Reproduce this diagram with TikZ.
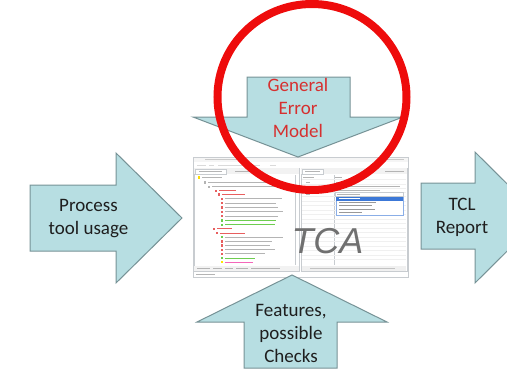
\documentclass[tikz,border=0pt]{standalone}
\usepackage{fontspec}
\setmainfont{Carlito}
\newfontfamily\tcafont{Liberation Sans}
\definecolor{arrowfill}{RGB}{183,222,226}
\definecolor{arrowline}{RGB}{118,146,150}
\definecolor{ringred}{RGB}{238,12,12}
\definecolor{gemred}{RGB}{214,48,48}
\definecolor{labelgray}{RGB}{30,30,30}
\definecolor{tcagray}{RGB}{112,112,112}
\definecolor{shotline}{RGB}{200,204,208}
\definecolor{treegreen}{RGB}{110,205,80}
\definecolor{treered}{RGB}{232,95,95}
\definecolor{treegray}{RGB}{180,180,180}
\definecolor{selblue}{RGB}{60,120,215}
\tikzset{
  bigarrow/.style={fill=arrowfill, draw=arrowline, line width=1pt, line join=miter},
  arrowlabel/.style={font=\fontsize{19}{23}\selectfont, text=labelgray, align=center, inner sep=0pt},
  redlabel/.style={arrowlabel, text=gemred},
  panel/.style={draw=shotline, line width=0.5pt, fill=white},
  tabrow/.style={fill=gray!10},
  txtbar/.style={line width=0.9pt, line cap=butt},
  ring/.style={draw=ringred, line width=8pt}
}
\begin{document}
\begin{tikzpicture}[x=1pt, y=-1pt]
\useasboundingbox (0,0) rectangle (507,373);
\clip (0,0) rectangle (507,373);

% ---------------- screenshot of the tool ----------------
\node[panel, minimum width=215pt, minimum height=120pt, inner sep=0pt] (shot) at (300.5,217) {};
\fill[gray!8] (193.5,157.5) rectangle (407.5,162);
\draw[txtbar, treegray!70] (205,159.8) -- (240,159.8);
\draw[txtbar, treegray!70] (380,159.8) -- (404,159.8);
\draw[txtbar, treegray!50] (197,165) -- (206,165) (209,165) -- (214,165) (218,165) -- (260,165) (270,165) -- (276,165);
% left panel
\node[panel, minimum width=105pt, minimum height=103pt, inner sep=0pt] (leftpanel) at (246.5,219.5) {};
\fill[tabrow] (194.3,168.3) rectangle (298.7,174);
\draw[panel] (195,169) rectangle (226,174);
\draw[txtbar, treegray] (199,171.5) -- (222,171.5) (235,171.5) -- (262,171.5);
\draw[shotline] (295.5,175) -- (295.5,265);
% tree lines
\foreach \yy/\xa/\xb/\ic/\tc in {
  177.3/198/222/yellow!80!orange/treegray,
  182.3/204/270/treegray/treegray,
  186.7/208/275/treegray/treegray,
  190.7/215/236/treered/treered,
  194.3/218/245/treered/treered,
  198.7/221/282/treered/treegray,
  203.0/221/276/treered/treegray,
  207.3/221/278/treered/treegray,
  211.7/221/283/treered/treegray,
  216.0/221/278/treered/treegray,
  220.3/221/276/treegreen/treegreen,
  224.7/221/275/treegreen/treegreen,
  228.7/213/232/treered/treered,
  233.0/216/245/treered/treered,
  237.0/221/283/treegreen/treegray,
  241.3/221/272/treered/treegray,
  245.3/221/270/treered/treegray,
  249.7/221/275/treered/treegray,
  253.7/221/265/treered/treegray,
  258.0/221/255/treegreen/treegreen,
  262.0/221/253/yellow!90!orange/magenta!60}{
  \fill[\ic] (\xa,\yy-1.2) rectangle (\xa+2.4,\yy+1.2);
  \draw[txtbar, \tc] (\xa+4,\yy) -- (\xb,\yy);
}
\fill[tabrow] (194.3,265.5) rectangle (298.7,270.7);
\draw[txtbar, treegray] (197,268) -- (210,268) (213,268) -- (222,268) (225,268) -- (233,268) (236,268) -- (248,268) (251,268) -- (280,268);
% right panel
\node[panel, minimum width=106pt, minimum height=103pt, inner sep=0pt] (rightpanel) at (354,219.5) {};
\fill[tabrow] (301.3,168.3) rectangle (406.7,174);
\draw[panel] (302,169) rectangle (323,174);
\draw[txtbar, treegray] (305,171.5) -- (320,171.5) (385,171.5) -- (404,171.5);
\draw[shotline] (334,175) -- (334,265);
\foreach \yy in {179.5,184,188.5,192.5,196.5,201,205.5,210,214.5,219,223.5,228,232.5,237,241.5,246,250.5,255,259.5}{
  \draw[gray!12, line width=0.4pt] (302,\yy) -- (406,\yy);
}
\draw[txtbar, treegray] (303,177) -- (314,177) (335,177) -- (342,177);
\draw[txtbar, treegray] (306,182) -- (310,182) (336,182) -- (341,182);
\draw[txtbar, treegray] (306,186) -- (319,186) (336,186) -- (400,186);
\draw[txtbar, treegray] (336,190) -- (380,190);
\draw[txtbar, treegray] (306,194) -- (310,194);
\draw[panel] (335,192) rectangle (403,196);
\draw[txtbar, treegray] (337,194) -- (360,194);
\draw[draw=selblue!60, fill=white, line width=0.5pt] (336,197) rectangle (403,215);
\fill[selblue] (336.3,197.3) rectangle (402.7,200.5);
\draw[txtbar, white] (339,198.9) -- (360,198.9);
\foreach \yy/\xb in {202.5/376,205.8/372,209.1/375,212.4/362}{
  \draw[txtbar, treegray!85!black, line width=0.8pt] (339,\yy) -- (\xb,\yy);
}
\fill[gray!12] (302,265.5) rectangle (406,270.5);
\draw[txtbar, treegray!80] (310,268) -- (395,268);
% status bar
\draw[txtbar, treegray] (196,274.5) -- (215,274.5);
% TCA label
\node[anchor=base, font=\tcafont\itshape\fontsize{36}{40}\selectfont, text=tcagray, inner sep=0pt] (tca) at (327.5,253) {TCA};

% ---------------- arrows ----------------
\draw[bigarrow] (30,185) -- (116,185) -- (116,153) -- (182,218) -- (116,283) -- (116,251) -- (30,251) -- cycle;
\draw[bigarrow] (247,77) -- (350,77) -- (350,117) -- (403,117) -- (298,157) -- (193,117) -- (247,117) -- cycle;
\draw[bigarrow] (292,275) -- (387,322) -- (337,322) -- (337,368) -- (244,368) -- (244,322) -- (197,322) -- cycle;
\draw[bigarrow] (421,183) -- (475,183) -- (475,152) -- (541,217.5) -- (475,283) -- (475,249) -- (421,249) -- cycle;

\node[arrowlabel] (process) at (88.5,219) {Process\\tool usage};
\node[redlabel] (gem) at (298,107.5) {General\\Error\\Model};
\node[arrowlabel] (features) at (291,333) {Features,\\possible\\Checks};
\node[arrowlabel] (tcl) at (462,217) {TCL\\Report};

% ---------------- red ring ----------------
\draw[ring] (312,97) ellipse [x radius=94.5pt, y radius=93pt];
\end{tikzpicture}
\end{document}
